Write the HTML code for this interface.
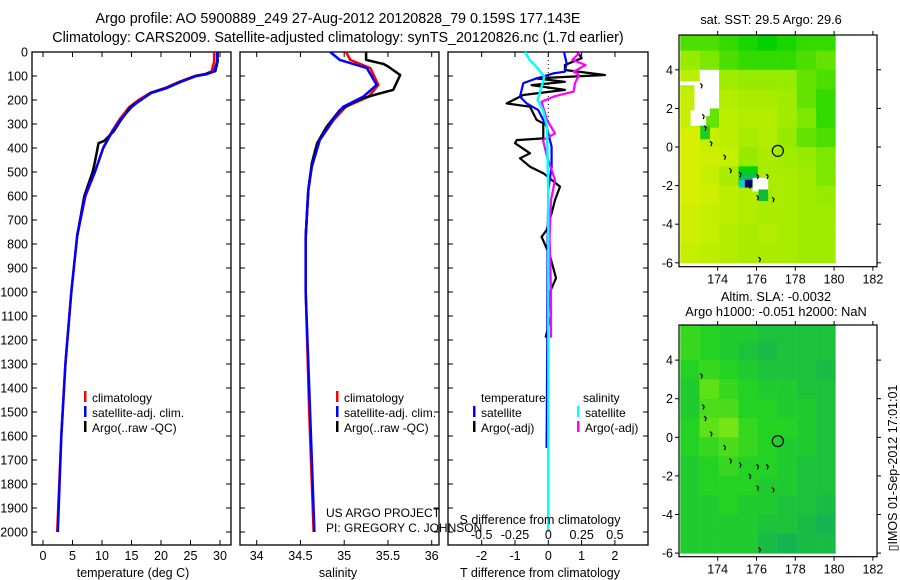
<!DOCTYPE html>
<html><head><meta charset="utf-8"><style>
html,body{margin:0;padding:0;background:#fff;}
svg{display:block;font-family:"Liberation Sans",sans-serif;}
text{fill:#000;}
</style></head><body>
<svg id="fig" width="900" height="580" viewBox="0 0 900 580" xmlns="http://www.w3.org/2000/svg">
<text x="338" y="23" font-size="14.3" text-anchor="middle">Argo profile: AO 5900889_249 27-Aug-2012 20120828_79 0.159S 177.143E</text>
<text x="338" y="42" font-size="14.3" text-anchor="middle">Climatology: CARS2009. Satellite-adjusted climatology: synTS_20120826.nc (1.7d earlier)</text>
<g id="p1"></g>
<g id="p2"></g>
<g id="p3"></g>
<g id="m1"></g>
<g id="m2"></g>
<text x="771" y="24" font-size="12.8" text-anchor="middle">sat. SST: 29.5 Argo: 29.6</text>
<text x="776" y="301" font-size="12.8" text-anchor="middle">Altim. SLA: -0.0032</text>
<text x="776" y="316" font-size="12.8" text-anchor="middle">Argo h1000: -0.051 h2000: NaN</text>
<text transform="translate(897,468) rotate(-90)" font-size="12.5" text-anchor="middle">▯IMOS 01-Sep-2012 17:01:01</text>
</svg>
<script>
// ---- data ----
const depthTicks=[0,100,200,300,400,500,600,700,800,900,1000,1100,1200,1300,1400,1500,1600,1700,1800,1900,2000];
const tempTicks=[0,5,10,15,20,25,30];
const salTicks=[34,34.5,35,35.5,36];
const tdiffTicks=[-2,-1,0,1,2];
const sdiffTicks=[-0.5,-0.25,0,0.25,0.5];
const sdiffTickLabels=["-0.5","-0.25","0","0.25","0.5"];
const lonTicks=[174,176,178,180,182];
const latTicks=[4,2,0,-2,-4,-6];

const tClimD=[0,40,80,92,100,125,150,170,200,230,280,330,400,500,600,765,1000,1300,1600,2000];
const tClimV=[29.0,29.0,28.6,27.5,25.7,23,20.7,18.2,16.2,14.6,13,11.7,10.2,8.8,7.2,5.8,4.8,3.8,3.1,2.4];
const tSatV=[29.5,29.5,29.0,27.8,26.0,23.3,21.0,18.4,16.5,15.0,13.2,11.8,10.2,8.8,7.1,5.8,4.8,3.8,3.1,2.5];
const tArgoD=[0,40,80,92,100,125,150,170,200,215,230,280,330,370,380,420,470,500,600,765];
const tArgoV=[29.6,29.6,29.2,27.5,25.9,23.2,20.9,18.3,16.6,15.6,14.8,13.3,12.0,10.4,9.4,9.1,8.7,8.4,7.0,5.8];

const sD=[0,33,67,137,186,228,283,367,478,575,770,1000,1500,2000];
const sClimV=[35.02,35.07,35.30,35.39,35.28,35.02,34.88,34.72,34.63,34.59,34.56,34.56,34.60,34.65];
const sSatV=[34.84,34.95,35.26,35.37,35.22,34.99,34.87,34.72,34.63,34.59,34.56,34.56,34.61,34.66];
const sArgoD=[0,33,50,60,96,158,172,192,214,242,311,380,464,575,770];
const sArgoV=[35.25,35.25,35.45,35.5,35.64,35.56,35.41,35.22,35.08,34.95,34.80,34.69,34.63,34.59,34.56];

const dtSatD=[0,47,82,89,110,130,186,214,242,311,394,478,575,800,1200,1650];
const dtSatV=[0.47,0.55,0.5,0.15,-0.35,-0.75,-0.85,-0.65,-0.3,-0.05,0.1,0.1,0,-0.02,-0.03,-0.05];
const dtArgoD=[0,26,54,75,96,110,124,138,158,179,214,228,283,297,360,367,380,422,443,478,505,561,617,672,742,770,850,942,1000,1100,1190];
const dtArgoV=[0.88,1.0,0.5,0.5,1.7,-0.37,0.5,-0.5,0.5,-0.75,-1.25,-0.55,-0.35,-0.15,-0.15,-0.95,-1.0,-0.55,-0.85,-0.55,-0.15,0.35,0.2,0.1,-0.05,-0.2,0.05,0.23,0.05,0.08,-0.08];
const dsSatD=[0,33,61,103,144,200,242,311,600,2000];
const dsSatV=[-0.175,-0.14,-0.09,-0.03,-0.05,-0.08,-0.04,-0.01,0,0];
const dsArgoD=[0,33,54,82,96,130,165,186,207,283,339,367,436,533,617,770,1000,1190];
const dsArgoV=[0.24,0.18,0.28,0.19,0.23,0.2,0.19,0.04,-0.05,-0.01,0.05,-0.04,-0.01,0.05,0.02,0.01,0.02,0.02];

const sstGrid=[
[29.0,29.0,28.9,28.8,28.7,28.8,28.9,28.9],
[29.3,29.2,29.0,28.9,28.9,28.9,29.0,29.1],
[29.7,NaN,29.4,29.3,29.3,29.3,29.1,29.0],
[29.8,NaN,29.6,29.5,29.5,29.4,29.1,28.9],
[29.8,29.1,29.7,29.6,29.6,29.4,29.2,28.9],
[30.0,29.8,29.7,29.5,29.6,29.3,29.1,29.0],
[30.1,29.9,29.8,29.3,29.5,29.4,29.3,29.2],
[30.0,29.8,29.5,28.0,29.5,29.5,29.4,29.2],
[30.0,29.9,29.7,29.6,29.5,29.5,29.4,29.3],
[29.9,29.8,29.7,29.6,29.5,29.5,29.4,29.4],
[29.9,29.8,29.6,29.5,29.6,29.5,29.4,29.4],
[29.8,29.7,29.6,29.5,29.5,29.5,29.4,29.4]];
const slaGrid=[
[0.01,0.0,-0.01,-0.01,-0.02,-0.02,-0.02,-0.02],
[0.01,0.0,-0.01,-0.02,-0.03,-0.02,-0.02,-0.02],
[0.0,0.01,0.0,-0.01,-0.02,-0.02,-0.02,-0.03],
[-0.01,0.03,0.01,0.0,-0.01,-0.01,-0.02,-0.02],
[-0.01,0.02,0.02,0.0,0.0,-0.01,-0.01,-0.02],
[0.0,0.03,0.04,0.01,0.0,0.0,-0.01,-0.02],
[0.0,0.01,0.02,0.01,0.0,-0.01,-0.01,-0.02],
[-0.01,0.0,0.01,0.0,0.0,-0.01,-0.02,-0.02],
[-0.01,0.0,0.0,0.0,-0.01,-0.01,-0.02,-0.02],
[-0.01,-0.01,0.0,-0.01,-0.01,-0.02,-0.02,-0.03],
[-0.01,-0.01,-0.01,-0.01,-0.02,-0.02,-0.03,-0.04],
[-0.01,-0.01,-0.01,-0.01,-0.03,-0.04,-0.03,-0.03]];
const argoLon=177.1, argoLat=-0.2;

// ---- drawing ----
const NS='http://www.w3.org/2000/svg';
function mk(parent,tag,attrs){const e=document.createElementNS(NS,tag);for(const k in attrs)e.setAttribute(k,attrs[k]);parent.appendChild(e);return e;}
const yD=d=>52+0.24*d;
const PT=52,PB=545;
function frame(g,x0,x1){
  const r=mk(g,'rect',{x:x0,y:PT,width:x1-x0,height:PB-PT,fill:'none',stroke:'#000','stroke-width':1.3});
  
  
  depthTicks.forEach(d=>{
    mk(g,'line',{x1:x0,x2:x0+5,y1:yD(d),y2:yD(d),stroke:'#000'});
    mk(g,'line',{x1:x1-5,x2:x1,y1:yD(d),y2:yD(d),stroke:'#000'});
  });
}
function line(g,xs,ds,fx,color,w,name){
  const pts=ds.map((d,i)=>fx(xs[i]).toFixed(1)+','+yD(d).toFixed(1)).join(' ');
  const p=mk(g,'polyline',{points:pts,fill:'none',stroke:color,'stroke-width':w,'stroke-linejoin':'round'});
  
  
}
function txt(g,x,y,s,anchor,size,name){
  const t=mk(g,'text',{x:x,y:y,'font-size':size||12,'text-anchor':anchor||'start'});t.textContent=s;
  
  
  return t;
}
function xTicks(g,vals,labels,fx,y,inward,ly,name){
  vals.forEach((v,i)=>{const x=fx(v);
    mk(g,'line',{x1:x,x2:x,y1:y,y2:y+inward,stroke:'#000'});
    if(labels)txt(g,x,ly,labels[i],'middle',12.5,name);});
}
function legendBar(g,x,y,color){mk(g,'rect',{x:x,y:y-10,width:2.5,height:11,fill:color});}

// panel 1
const p1=document.getElementById('p1');
const fT=t=>43+5.9*t;
frame(p1,32,231);
depthTicks.forEach(d=>txt(p1,28,yD(d)+4.5,String(d),'end',12.5,'depth-tick-label'));
xTicks(p1,tempTicks,null,fT,PT,5);
xTicks(p1,tempTicks,tempTicks.map(String),fT,PB,-5,560,'temp-tick-label');
line(p1,tClimV,tClimD,fT,'#f00',2.5,'temp-climatology-line');
line(p1,tArgoV,tArgoD,fT,'#000',2.5,'temp-argo-line');
line(p1,tSatV,tClimD,fT,'#00f',2.5,'temp-satellite-line');
txt(p1,133,577,'temperature (deg C)','middle',12.5,'temp-axis-title');
legendBar(p1,84,401,'#f00');txt(p1,92,402,'climatology','start',12,'legend-climatology');
legendBar(p1,84,416,'#00f');txt(p1,92,417,'satellite-adj. clim.','start',12,'legend-satellite');
legendBar(p1,84,431,'#000');txt(p1,92,432,'Argo(..raw -QC)','start',12,'legend-argo');

// panel 2
const p2=document.getElementById('p2');
const fS=s=>256.7+87.5*(s-34);
frame(p2,240,439);
xTicks(p2,salTicks,null,fS,PT,5);
xTicks(p2,salTicks,salTicks.map(String),fS,PB,-5,560,'salinity-tick-label');
line(p2,sClimV,sD,fS,'#f00',2.5,'sal-climatology-line');
line(p2,sArgoV,sArgoD,fS,'#000',2.5,'sal-argo-line');
line(p2,sSatV,sD,fS,'#00f',2.5,'sal-satellite-line');
txt(p2,338,577,'salinity','middle',12.5,'salinity-axis-title');
legendBar(p2,336,401,'#f00');txt(p2,344,402,'climatology','start',12,'legend-climatology');
legendBar(p2,336,416,'#00f');txt(p2,344,417,'satellite-adj. clim.','start',12,'legend-satellite');
legendBar(p2,336,431,'#000');txt(p2,344,432,'Argo(..raw -QC)','start',12,'legend-argo');
txt(p2,326,517,'US ARGO PROJECT','start',12,'project-credit');
txt(p2,326,532,'PI: GREGORY C. JOHNSON','start',12,'pi-credit');

// panel 3
const p3=document.getElementById('p3');
const fDT=v=>548.3+33.3*v, fDS=v=>548.3+133.3*v;
frame(p3,448,648);
xTicks(p3,sdiffTicks,null,fDS,PT,5);
xTicks(p3,tdiffTicks,tdiffTicks.map(String),fDT,PB,-5,560,'tdiff-tick-label');
mk(p3,'line',{x1:fDT(0),x2:fDT(0),y1:PT,y2:yD(300),stroke:'#000','stroke-dasharray':'1,3'});
line(p3,dtArgoV,dtArgoD,fDT,'#000',2.2,'tdiff-argo-line');
line(p3,dtSatV,dtSatD,fDT,'#00f',2.2,'tdiff-satellite-line');
line(p3,dsArgoV,dsArgoD,fDS,'#f0f',2.2,'sdiff-argo-line');
line(p3,dsSatV,dsSatD,fDS,'#0ff',2.5,'sdiff-satellite-line');
txt(p3,540,577,'T difference from climatology','middle',12.5,'tdiff-axis-title');
txt(p3,540,524,'S difference from climatology','middle',12.5,'sdiff-axis-title');
sdiffTicks.forEach((v,i)=>txt(p3,fDS(v),539,sdiffTickLabels[i],'middle',12.5,'sdiff-tick-label'));
txt(p3,481,402,'temperature','start',12,'legend-temperature-header');
txt(p3,583,402,'salinity','start',12,'legend-salinity-header');
legendBar(p3,473,416,'#00f');txt(p3,481,417,'satellite','start',12,'legend-t-satellite');
legendBar(p3,473,431,'#000');txt(p3,481,432,'Argo(-adj)','start',12,'legend-t-argo');
legendBar(p3,577,416,'#0ff');txt(p3,585,417,'satellite','start',12,'legend-s-satellite');
legendBar(p3,577,431,'#f0f');txt(p3,585,432,'Argo(-adj)','start',12,'legend-s-argo');

// maps
function lerpC(a,b,t){return `rgb(${a.map((x,i)=>Math.round(x+(b[i]-x)*t)).join(',')})`;}
function sstColor(v){
  if(v<29.3){const t=Math.max(0,(v-28.7)/0.6);return lerpC([0,210,0],[150,235,0],t);}
  const t=Math.min(1,(v-29.3)/0.7);return lerpC([150,235,0],[215,240,0],t);}
function slaColor(v){
  if(v<0){const t=Math.max(0,(v+0.04)/0.04);return lerpC([20,180,80],[35,210,35],t);}
  const t=Math.min(1,v/0.04);return lerpC([35,210,35],[115,230,20],t);}
function drawMap(id,top,bottom,lat0y,grid,colorFn,special){
  const g=document.getElementById(id);
  const fx=lon=>717.7+19.4*(lon-174), fy=lat=>lat0y-19.3*lat;
  grid.forEach((row,i)=>row.forEach((v,j)=>{
    const latTop=6-i, lon0=172.07+j;
    const y0=Math.max(top,fy(latTop)), y1=Math.min(bottom,fy(latTop-1));
    const c=mk(g,'rect',{x:fx(lon0),y:y0,width:19.6,height:y1-y0+0.5,fill:isNaN(v)?'#fff':colorFn(v)});
    
    
  }));
  if(special)special(g,fx,fy);
  [[173.1,3.3],[173.2,1.7],[173.3,1.1],[173.6,0.3],[174.3,-0.4],[174.6,-1.1],[175.1,-1.3],[175.6,-1.9],[176.0,-1.4],[176.5,-1.4],[176.0,-2.5],[176.8,-2.6],[176.1,-5.7]].forEach(p=>{
    mk(g,'path',{d:`M${fx(p[0])},${fy(p[1])} l2,2 l-1,3`,stroke:'#000','stroke-width':1.2,fill:'none'});});
  const ring=mk(g,'circle',{cx:fx(argoLon),cy:fy(argoLat),r:5.5,fill:'none',stroke:'#000','stroke-width':1.2});
  
  
  const fr=mk(g,'rect',{x:679,y:top,width:198,height:bottom-top,fill:'none',stroke:'#000','stroke-width':1.2});
  
  
  lonTicks.forEach(l=>{const x=fx(l);
    mk(g,'line',{x1:x,x2:x,y1:top-4,y2:top,stroke:'#000'});
    mk(g,'line',{x1:x,x2:x,y1:bottom,y2:bottom+4,stroke:'#000'});
    txt(g,x,bottom+17,String(l),'middle',12.5,'lon-tick-label');});
  latTicks.forEach(l=>{const y=fy(l);
    mk(g,'line',{x1:675,x2:679,y1:y,y2:y,stroke:'#000'});
    mk(g,'line',{x1:877,x2:881,y1:y,y2:y,stroke:'#000'});
    txt(g,673,y+4.5,String(l),'end',12.5,'lat-tick-label');});
}
drawMap('m1',35,266.7,147,sstGrid,sstColor,(g,fx,fy)=>{
  mk(g,'rect',{x:fx(172.07),y:fy(3.4),width:fx(173.6)-fx(172.07),height:fy(3.2)-fy(3.4),fill:'#fff'});
  mk(g,'rect',{x:fx(172.8),y:fy(3.2),width:fx(173.6)-fx(172.8),height:fy(1.6)-fy(3.2),fill:'#fff'});
  mk(g,'rect',{x:fx(172.6),y:fy(1.9),width:fx(173.4)-fx(172.6),height:fy(1.1)-fy(1.9),fill:'#fff'});
  mk(g,'rect',{x:fx(173.1),y:fy(1.1),width:fx(173.6)-fx(173.1),height:fy(0.4)-fy(1.1),fill:'#22cc22'});
  mk(g,'rect',{x:fx(175.1),y:fy(-1.4),width:fx(176.0)-fx(175.1),height:fy(-1.9)-fy(-1.4),fill:'#11bb55'});
  mk(g,'rect',{x:fx(175.1),y:fy(-1.7),width:fx(175.4)-fx(175.1),height:fy(-2.1)-fy(-1.7),fill:'#11cccc'});
  mk(g,'rect',{x:fx(175.4),y:fy(-1.7),width:fx(175.8)-fx(175.4),height:fy(-2.1)-fy(-1.7),fill:'#000080'});
  mk(g,'rect',{x:fx(175.8),y:fy(-1.6),width:fx(176.6)-fx(175.8),height:fy(-2.3)-fy(-1.6),fill:'#fff'});
  mk(g,'rect',{x:fx(176.1),y:fy(-2.2),width:fx(176.6)-fx(176.1),height:fy(-2.8)-fy(-2.2),fill:'#11bb33'});
});
drawMap('m2',325,556.7,437.3,slaGrid,slaColor,null);
</script>
</body></html>
